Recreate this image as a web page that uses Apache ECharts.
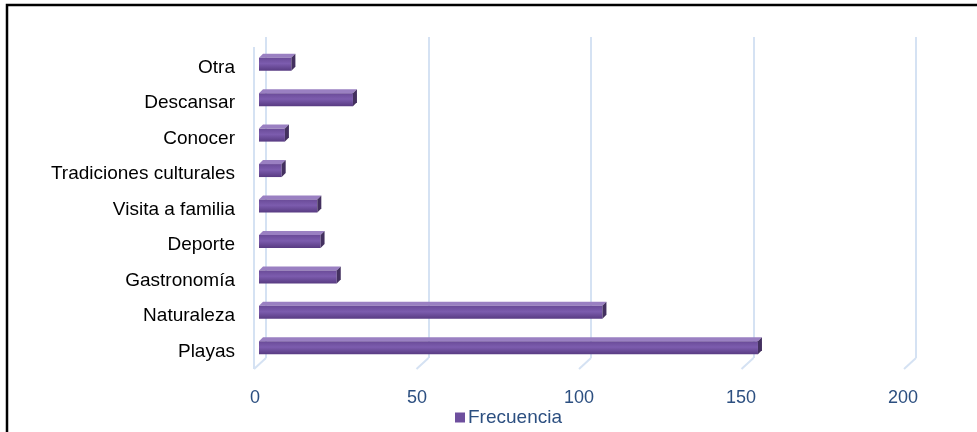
<!DOCTYPE html>
<html>
<head>
<meta charset="utf-8">
<script src="https://cdn.jsdelivr.net/npm/echarts@6/dist/echarts.min.js"></script>
<style>
  html, body { margin: 0; padding: 0; background: #ffffff; }
  #chart { width: 977px; height: 432px; }
</style>
</head>
<body>
<div id="chart"></div>
<script>
// Motivations, bottom to top as drawn on the category axis
const categories = ['Playas', 'Naturaleza', 'Gastronomía', 'Deporte', 'Visita a familia',
  'Tradiciones culturales', 'Conocer', 'Descansar', 'Otra'];
const frecuencia = [154, 106, 24, 19, 18, 7, 8, 29, 10];
const tickValues = [0, 50, 100, 150, 200];
const seriesName = 'Frecuencia';

const chart = echarts.init(document.getElementById('chart'), null, { renderer: 'canvas' });

const FONT = '"Liberation Sans", Arial, sans-serif';
const WALL = '#d5e2f3';
const DEPTH_X = -12, DEPTH_Y = 11;   // floor perspective offset

// 3D bar: front face, lighter top face, darker right side
function renderBar(params, api) {
  const v = api.value(0);
  const idx = api.value(1);
  const start = api.coord([0, idx]);
  const end = api.coord([v, idx]);
  const y0 = start[1] - 5;
  const h = 13;
  const d = 4;
  const x0 = start[0], x1 = end[0];
  return {
    type: 'group',
    children: [
      {
        type: 'polygon',
        shape: { points: [[x0, y0], [x0 + d, y0 - d], [x1 + d, y0 - d], [x1, y0]] },
        style: { fill: '#9a80c2' }
      },
      {
        type: 'rect',
        shape: { x: x0, y: y0, width: x1 - x0, height: h },
        style: {
          fill: new echarts.graphic.LinearGradient(0, 0, 0, 1, [
            { offset: 0, color: '#6a4b98' },
            { offset: 0.45, color: '#7c5cae' },
            { offset: 1, color: '#583b82' }
          ])
        }
      },
      {
        type: 'polygon',
        shape: { points: [[x1, y0], [x1 + d, y0 - d], [x1 + d, y0 + h - d], [x1, y0 + h]] },
        style: { fill: '#43305f' }
      }
    ]
  };
}

// Floor edges of the back wall gridlines, plus the left wall front edge
function renderWall(params, api) {
  const v = api.value(0);
  const p = api.coord([v, 0]);
  const top = params.coordSys.y;
  const children = [{
    type: 'line',
    shape: { x1: p[0], y1: p[1], x2: p[0] + DEPTH_X, y2: p[1] + DEPTH_Y },
    style: { stroke: WALL, lineWidth: 2 }
  }];
  if (v === 0) {
    children.push({
      type: 'line',
      shape: { x1: p[0] + DEPTH_X, y1: top + 10, x2: p[0] + DEPTH_X, y2: p[1] + DEPTH_Y },
      style: { stroke: WALL, lineWidth: 2 }
    });
  }
  return { type: 'group', children };
}

const option = {
  animation: false,
  backgroundColor: '#ffffff',
  grid: [
    { left: 259, top: 45, width: 648, height: 319 },   // bars
    { left: 266, top: 37, width: 650, height: 321 },   // back wall
    { left: 255, top: 37, width: 648, height: 347 },   // value labels
    { left: 259, top: 50, width: 648, height: 319 }    // category labels (front edge)
  ],
  xAxis: [
    { gridIndex: 0, type: 'value', min: 0, max: 200, interval: 50, show: false },
    {
      gridIndex: 1, type: 'value', min: 0, max: 200, interval: 50,
      axisLine: { show: false }, axisTick: { show: false }, axisLabel: { show: false },
      splitLine: { show: true, lineStyle: { color: WALL, width: 2 } }
    },
    {
      gridIndex: 2, type: 'value', min: 0, max: 200, interval: 50,
      axisLine: { show: false }, axisTick: { show: false }, splitLine: { show: false },
      axisLabel: { color: '#2c4f80', fontSize: 18, fontFamily: FONT, margin: 5 }
    },
    { gridIndex: 3, type: 'value', min: 0, max: 200, interval: 50, show: false }
  ],
  yAxis: [
    { gridIndex: 0, type: 'category', data: categories, show: false },
    { gridIndex: 1, type: 'value', min: 0, max: 1, show: false },
    { gridIndex: 2, type: 'value', min: 0, max: 1, show: false },
    {
      gridIndex: 3, type: 'category', data: categories,
      axisLine: { show: false }, axisTick: { show: false }, splitLine: { show: false },
      axisLabel: { color: '#000000', fontSize: 19, fontFamily: FONT, margin: 24 }
    }
  ],
  legend: {
    data: [seriesName],
    left: 450, top: 403,
    icon: 'rect', itemWidth: 10, itemHeight: 10, itemGap: 5,
    textStyle: { color: '#2c4f80', fontSize: 19, fontFamily: FONT, padding: [0, 0, 0, -2] }
  },
  graphic: [{
    type: 'rect',
    shape: { x: 7, y: 5, width: 990, height: 450 },
    style: { fill: 'none', stroke: '#000000', lineWidth: 2.5 },
    z: 100
  }],
  series: [
    {
      name: 'wall',
      type: 'custom',
      xAxisIndex: 1, yAxisIndex: 1,
      renderItem: renderWall,
      data: tickValues.map(v => [v]),
      encode: { x: 0 },
      silent: true, z: 1
    },
    {
      name: seriesName,
      type: 'custom',
      xAxisIndex: 0, yAxisIndex: 0,
      renderItem: renderBar,
      itemStyle: { color: '#6e4f9e' },
      data: frecuencia.map((v, i) => [v, i]),
      encode: { x: 0, y: 1 },
      z: 5
    }
  ]
};

chart.setOption(option);
</script>
</body>
</html>
